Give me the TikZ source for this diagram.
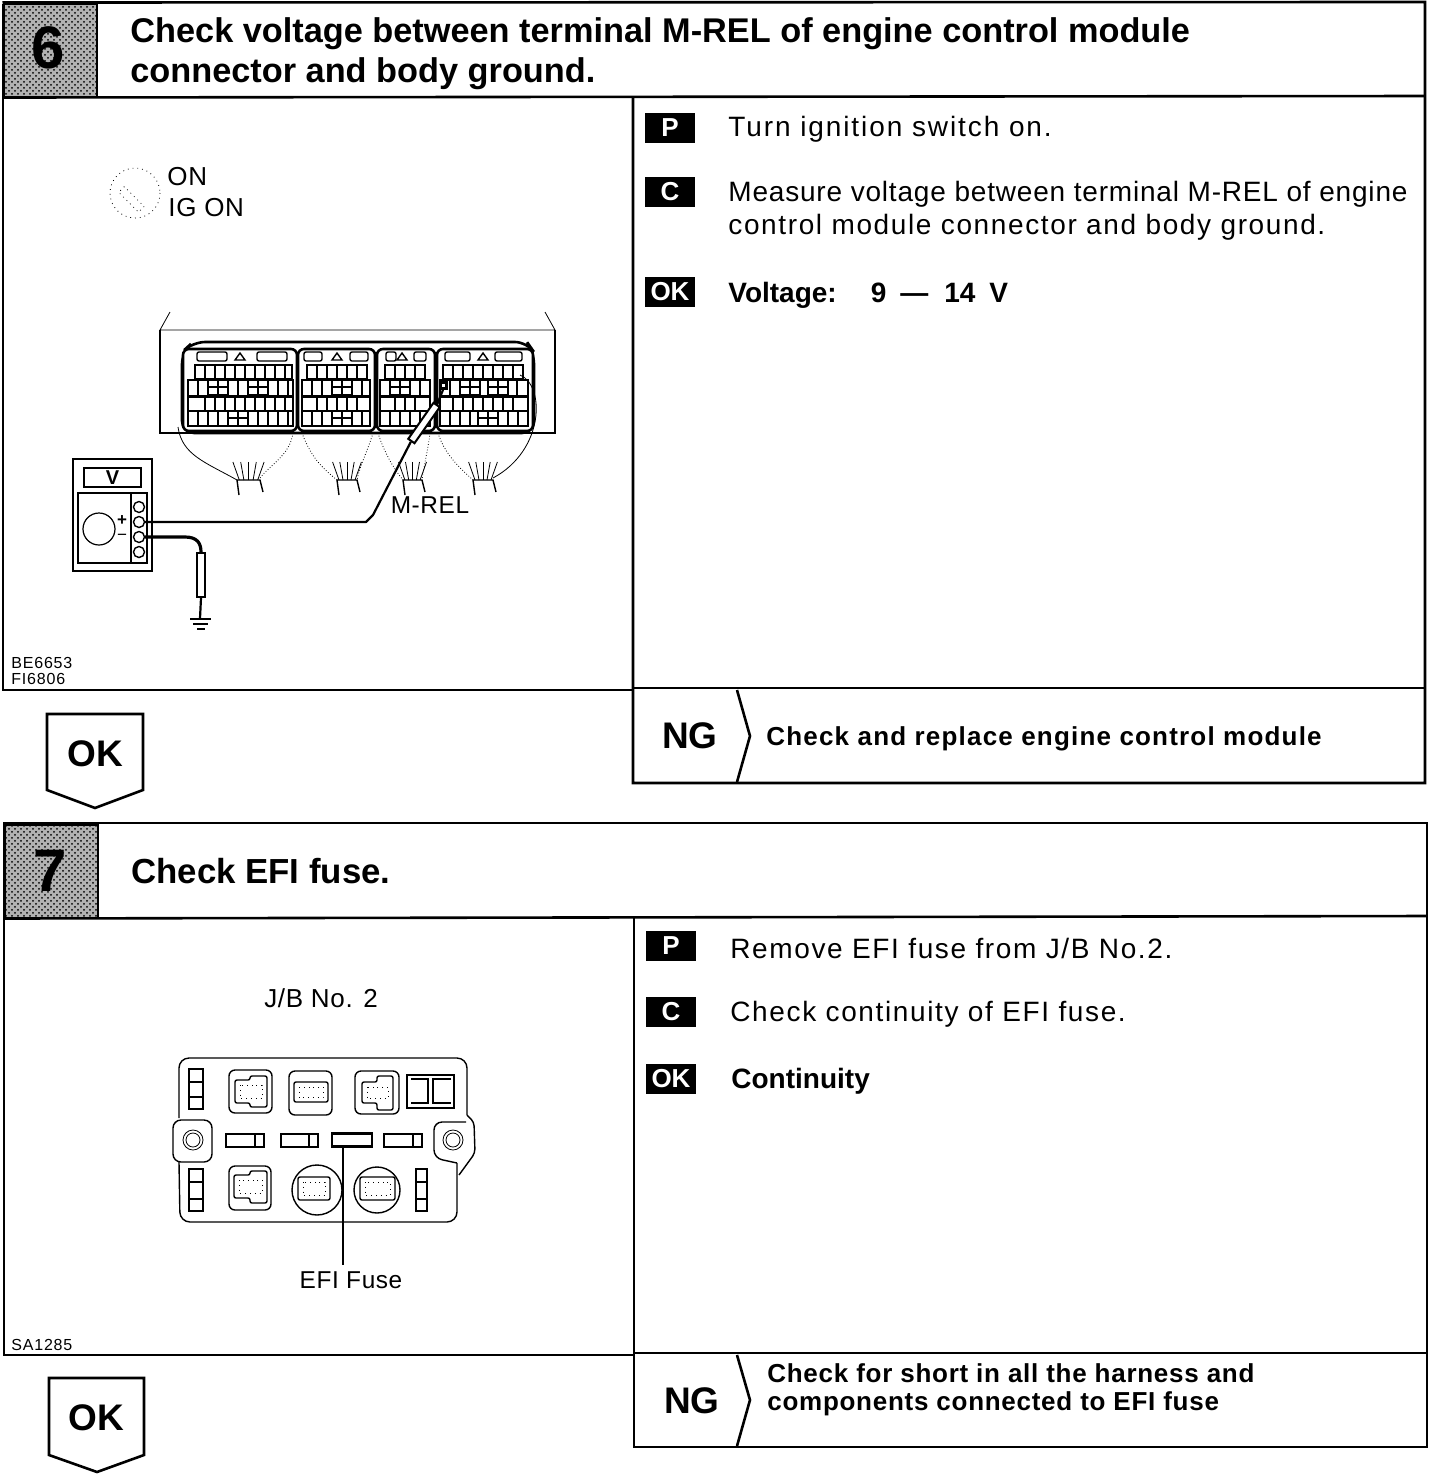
\documentclass[tikz,border=0pt]{standalone}
\usepackage{fontspec}
\setmainfont{Liberation Sans}
\newfontfamily\bodyfont[LetterSpace=5.8]{Liberation Sans}
\newfontfamily\ngfont[LetterSpace=2.8]{Liberation Sans}
\newfontfamily\strongfont{Liberation Sans}
\newfontfamily\labelfont[LetterSpace=2.5]{Liberation Sans}
\newfontfamily\codefont[LetterSpace=5]{Liberation Sans}
\usepackage{tikz}
\usetikzlibrary{calc, patterns}

\begin{document}
\begin{tikzpicture}[
  x=0.5pt, y=-0.5pt,
  frame/.style={line width=1.3pt, draw=black},
  thinline/.style={line width=0.4pt, draw=black},
  partline/.style={line width=0.7pt, draw=black},
  heavyline/.style={line width=1.3pt, draw=black},
  headcell/.style={
    rectangle, draw=black, line width=1pt, preaction={fill=black!30}, pattern=crosshatch dots,
    minimum width=46.5pt, minimum height=46.5pt, inner sep=0pt
  },
  digit/.style={font=\bfseries\fontsize{30}{30}\selectfont},
  title/.style={anchor=west, inner sep=0pt, align=left, font=\bfseries\fontsize{17.15}{20}\selectfont},
  badge/.style={
    rectangle, fill=black, text=white, minimum width=25pt, minimum height=15pt,
    inner sep=0pt, font=\bfseries\fontsize{13}{13}\selectfont
  },
  bodytext/.style={anchor=west, inner sep=0pt, align=left, font=\bodyfont\fontsize{14}{16.6}\selectfont},
  boldtext/.style={anchor=west, inner sep=0pt, align=left, font=\strongfont\bfseries\fontsize{14}{16.6}\selectfont},
  ngtext/.style={anchor=west, inner sep=0pt, align=left, font=\ngfont\bfseries\fontsize{13}{14}\selectfont},
  bigtext/.style={inner sep=0pt, font=\bfseries\fontsize{18.5}{18.5}\selectfont},
  label/.style={inner sep=0pt, font=\labelfont\fontsize{13}{13}\selectfont},
  shortlabel/.style={inner sep=0pt, font=\labelfont\fontsize{12.2}{13}\selectfont},
  codetext/.style={anchor=west, inner sep=0pt, align=left, font=\codefont\fontsize{8}{8.4}\selectfont},
  terminal/.style={circle, draw=black, line width=0.7pt, fill=white, minimum size=5.5pt, inner sep=0pt},
  handle/.style={rectangle, draw=black, fill=white, line width=1pt, minimum width=22pt, minimum height=3.8pt, inner sep=0pt},
  lead/.style={line width=1.1pt, draw=black, line join=round},
  gndlead/.style={line width=1.6pt, draw=black, line join=round}
]
\useasboundingbox (0,0) rectangle (1440,1474);

% ============================================================
% Step 6: frame and heading
\node[headcell] (head6) at (50,50) {};
\node[digit] (num6) at (48,48) {6};
\draw[frame] (head6.north west) -- (1425,2) -- (1425,783) -- (633,783) -- (633,96);
\draw[frame] (head6.south west) -- (1425,96);
\draw[frame] (3,4) -- (3,690) -- (633,690);
\draw[frame] (633,688) -- (1425,688);
\draw[frame] (737,690) -- (750,736) -- (737,782);
\node[title] (title6) at (130,53.5) {Check voltage between terminal M-REL of engine control module\\connector and body ground.};

% Right hand column
\node[badge] (p6) at (670,128) {P};
\node[badge] (c6) at (670,192) {C};
\node[badge] (ok6) at (670,292) {OK};
\node[bodytext] (ptext6) at (728,129) {{\addfontfeature{LetterSpace=6.8}Turn ignition switch on.}};
\node[bodytext] (ctext6) at (728,211) {{\addfontfeature{LetterSpace=2.9}Measure voltage between terminal M-REL of engine}\\control module connector and body ground.};
\node[boldtext] (oktext6) at (728,295) {Voltage:\hspace{17pt}9\hspace{7pt}—\hspace{8pt}14\hspace{7pt}V};
\node[bigtext] (ng6) at (690,736) {NG};
\node[ngtext] (ngtext6) at (766,739) {{\addfontfeature{LetterSpace=4.6}Check and replace engine control module}};

% OK tag under the left column
\draw[frame] (47,714) -- (143,714) -- (143,790) -- (95,808) -- (47,790) -- cycle;
\node[bigtext] (go6) at (95,754) {OK};

% Ignition key
\draw[thinline, dotted] (135,193) circle (25);
\draw[thinline, dotted, rotate around={-45:(130,198)}] (118,194) rectangle (146,202);
\node[label, anchor=west] (on) at (167,177) {ON};
\node[label, anchor=west] (igon) at (168,208) {IG ON};

% ============================================================
% Engine control module
\draw[thinline] (170,312) -- (160,330) -- (555,330) -- (545,312);
\draw[line width=1pt] (160,330) -- (160,433) -- (555,433) -- (555,330);
\draw[heavyline, rounded corners=6pt] (182,433) -- (182,352) -- (193,342) -- (527,342) -- (534,352) -- (534,433) -- cycle;
\foreach \xa/\xb in {183/297, 298/375, 377/435, 437/533} {
  \draw[heavyline, fill=white, rounded corners=3pt] (\xa,349) rectangle (\xb,431);
}
% Cavity rows, one entry per connector half
\foreach \xa/\xb/\xc/\xd in {195/292/188/293, 307/367/302/370, 385/425/380/430, 443/523/440/528} {
  \draw[partline] (\xa,365) rectangle (\xb,379);
  \draw[partline] (\xc,397) rectangle (\xd,411);
  \draw[heavyline] (\xc,380) rectangle (\xd,396);
  \draw[heavyline] (\xc,411) rectangle (\xd,426);
}
\foreach \x in {205,215,...,285,317,327,...,357,395,405,415,453,463,...,513} {
  \draw[partline] (\x,365) -- (\x,379);
  \draw[partline] (\x,397) -- (\x,411);
}
\foreach \x in {198,208,228,238,248,268,278,288,312,322,332,352,362,390,410,420,450,460,477,488,507,517} {
  \draw[partline] (\x,380) -- (\x,396);
}
\foreach \x in {198,208,218,228,248,258,268,278,288,312,322,332,352,362,390,400,410,420,450,460,470,478,498,508,518} {
  \draw[partline] (\x,411) -- (\x,426);
}
% Terminal crosses
\foreach \xa/\ya in {208/380, 248/380, 228/411, 332/380, 332/411, 390/380, 460/380, 488/380, 478/411} {
  \draw[partline, fill=white] (\xa,\ya) rectangle ++(20,15);
  \draw[partline] ($(\xa,\ya)+(10,0)$) -- ++(0,15);
  \draw[partline] ($(\xa,\ya)+(0,7)$) -- ++(20,0);
}
% Latches along the top
\foreach \xa/\xb in {197/227, 257/287, 304/322, 350/368, 386/396, 414/426, 445/470, 495/522} {
  \draw[partline, rounded corners=1pt] (\xa,352) rectangle (\xb,361);
}
\foreach \x in {240,337,402,483} {
  \draw[partline] (\x-5,360) -- (\x,353) -- (\x+5,360) -- cycle;
}

% Wire bundles under the connectors
\draw[thinline] (178,427) .. controls (182,455) and (205,462) .. (237,480);
\draw[thinline, densely dotted] (293,433) .. controls (290,455) and (270,465) .. (260,478);
\draw[thinline, densely dotted] (302,433) .. controls (312,460) and (325,470) .. (337,480);
\draw[thinline, densely dotted] (373,433) .. controls (368,450) and (360,465) .. (357,480);
\draw[thinline, densely dotted] (378,433) .. controls (385,455) and (395,470) .. (403,480);
\draw[thinline, densely dotted] (430,433) .. controls (428,450) and (424,465) .. (422,480);
\draw[thinline, densely dotted] (438,433) .. controls (445,455) and (460,468) .. (473,480);
\draw[thinline] (520,375) .. controls (545,385) and (545,450) .. (493,478);
\foreach \xa/\xb in {237/260, 337/357, 403/422, 473/493} {
  \draw[partline] (\xa+2,495) -- (\xa,480) -- (\xb,480) -- (\xb+3,492);
  \foreach \t in {0.1,0.3,0.5,0.7,0.9} {
    \draw[thinline] ({\xa+\t*(\xb-\xa)},480) -- ({\xa+\t*(\xb-\xa)+(\t-0.5)*16},462);
  }
}

% ============================================================
% Voltmeter
\node[draw, line width=1.2pt, minimum width=39.5pt, minimum height=56pt, inner sep=0pt] (meter) at (112.5,515) {};
\node[draw, line width=0.6pt, minimum width=28.5pt, minimum height=9.5pt, inner sep=0pt, font=\bfseries\fontsize{10}{10}\selectfont] (display) at (112.5,477.5) {V};
\draw[partline] (78,493) rectangle (147,563);
\draw[partline] (131,493) -- (131,563);
\node[circle, draw, line width=0.6pt, minimum size=16pt, inner sep=0pt] (dial) at (99,529) {};
\foreach \i/\y in {1/507, 2/522, 3/537, 4/552} {
  \node[terminal] (t\i) at (139,\y) {};
}
\node[inner sep=0pt, font=\bfseries\fontsize{8.5}{8.5}\selectfont] (plus) at (122,521) {+};
\node[inner sep=0pt, font=\fontsize{8.5}{8.5}\selectfont] (minus) at (122,537) {−};

% Probe on M-REL
\node[handle, rotate=55] (mrelprobe) at (424,423) {};
\node[fill=black, minimum size=4.5pt, inner sep=0pt] (mreltip) at (443,385) {};
\node[fill=white, minimum size=1.5pt, inner sep=0pt] (mreldot) at (mreltip) {};
\coordinate (bend) at (366,522);
\draw[lead] (t2.east) -- (bend) -- ++(7,-7) -- (mrelprobe.west);
\draw[lead] (mrelprobe.east) -- (mreltip.south);
\node[shortlabel] (mrel) at (430,505) {M-REL};

% Ground probe
\node[handle, rotate=90] (gndprobe) at (201,575) {};
\node[inner sep=0pt, minimum width=10pt, minimum height=0.1pt] (gnd) at (200,619) {};
\draw[gndlead] (t3.east) -- (185,537) .. controls (197,537) and (201,543) .. (gndprobe.east);
\draw[lead] (gndprobe.west) -- (gnd.north);
\draw[partline] (190,619) -- (211,619);
\draw[partline] (193,624) -- (208,624);
\draw[partline] (197,629) -- (205,629);

% Picture codes
\node[codetext] (code6) at (11,671) {BE6653\\FI6806};

% ============================================================
% Step 7: frame and heading
\node[headcell] (head7) at (51.5,871) {};
\node[digit] (num7) at (50,871) {7};
\draw[frame] (3,823) -- (1427,823) -- (1427,1447) -- (634,1447) -- (634,916);
\draw[frame] (head7.south west) -- (1427,916);
\draw[frame] (4,823) -- (4,1355) -- (634,1355);
\draw[frame] (634,1353) -- (1427,1353);
\draw[frame] (737,1355) -- (750,1400) -- (737,1446);
\node[title, font=\bfseries\fontsize{17.4}{20}\selectfont] (title7) at (131,871) {Check EFI fuse.};

% Right hand column
\node[badge] (p7) at (671,946) {P};
\node[badge] (c7) at (671,1012) {C};
\node[badge] (ok7) at (671,1079) {OK};
\node[bodytext] (ptext7) at (730,948) {Remove EFI fuse from J/B No.2.};
\node[bodytext] (ctext7) at (730,1014) {Check continuity of EFI fuse.};
\node[boldtext] (oktext7) at (731,1081) {Continuity};
\node[bigtext] (ng7) at (692,1401) {NG};
\node[ngtext] (ngtext7) at (767,1390) {Check for short in all the harness and\\components connected to EFI fuse};

% OK tag under the left column
\draw[frame] (49,1378) -- (144,1378) -- (144,1455) -- (97,1472) -- (49,1455) -- cycle;
\node[bigtext] (go7) at (96,1418) {OK};

% ============================================================
% Junction block No. 2
\node[label] (jb) at (321,998) {J/B No. 2};
\draw[partline, rounded corners=5pt] (179,1118) -- (179,1058) -- (467,1058) -- (467,1115);
\draw[partline, rounded corners=2pt] (467,1115) -- (474,1122) -- (475,1153) -- (459,1175);
\draw[partline, rounded corners=5pt] (457,1163) -- (457,1222) -- (180,1222) -- (179,1162);
\draw[partline, rounded corners=4pt, fill=white] (173,1120) rectangle (212,1162);
\draw[partline, rounded corners=4pt] (466,1122) -- (434,1122) -- (434,1158) -- (457,1163);
\foreach \x in {193,453} {
  \draw[thinline] (\x,1140) circle (10);
  \draw[thinline] (\x,1140) circle (7);
}
% Small vertical fuses
\foreach \xa/\ya/\xb/\yb in {189/1069/203/1109, 189/1169/203/1211, 416/1169/427/1211} {
  \draw[partline] (\xa,\ya) rectangle (\xb,\yb);
  \draw[partline] (\xa,\ya+13) -- (\xb,\ya+13);
  \draw[partline] (\xa,\yb-12) -- (\xb,\yb-12);
}
% Relay sockets
\foreach \xa/\ya/\xb/\yb in {229/1070/272/1113, 289/1071/332/1115, 355/1071/399/1114, 229/1166/271/1210} {
  \draw[partline, rounded corners=3pt] (\xa,\ya) rectangle (\xb,\yb);
}
% Stepped relay bodies
\foreach \xa/\xm/\xb/\ya/\yb/\yc/\yd in {235/250/267/1076/1080/1103/1107, 362/377/393/1076/1082/1103/1110, 234/250/267/1171/1175/1198/1203} {
  \draw[partline, rounded corners=1pt] (\xa,\yb) -- (\xm,\yb) -- (\xm,\ya) -- (\xb,\ya) -- (\xb,\yd) -- (\xm,\yd) -- (\xm,\yc) -- (\xa,\yc) -- cycle;
  \draw[thinline, dotted] ($(\xa,\yb)+(5,5)$) rectangle ($(\xb,\yc)+(-5,-5)$);
}
\foreach \xa/\ya/\xb/\yb in {294/1082/328/1102, 298/1177/330/1200, 360/1177/395/1200} {
  \draw[partline, rounded corners=1pt] (\xa,\ya) rectangle (\xb,\yb);
  \draw[thinline, dotted] ($(\xa,\ya)+(5,5)$) rectangle ($(\xb,\yb)+(-5,-5)$);
}
\draw[heavyline] (407,1075) rectangle (454,1108);
\draw[partline] (411,1079) -- (428,1079) -- (428,1103) -- (411,1103);
\draw[partline] (451,1079) -- (433,1079) -- (433,1103) -- (451,1103);
\draw[partline] (317,1190) circle (25);
\draw[partline] (377,1190) circle (23);
% Row of flat fuses
\foreach \xa/\xb in {226/264, 281/318, 384/422} {
  \draw[partline] (\xa,1134) rectangle (\xb,1147);
  \draw[partline] (\xb-9,1134) -- (\xb-9,1147);
}
\node[draw, line width=1.3pt, minimum width=20pt, minimum height=6.5pt, inner sep=0pt] (efifuse) at (352,1140) {};
\node[shortlabel] (efilabel) at (351,1280) {EFI Fuse};
\coordinate (leaderend) at (343,1265);
\draw[partline] (efifuse.south -| leaderend) -- (leaderend);

\node[codetext] (code7) at (11,1345) {SA1285};

\end{tikzpicture}
\end{document}
